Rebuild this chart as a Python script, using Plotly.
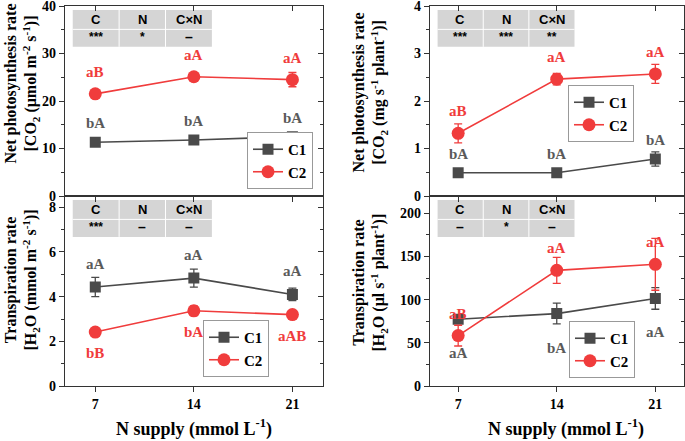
import plotly.graph_objects as go

# ---------------- data ----------------
n_supply = [7, 14, 21]
x_tick_labels = ["7", "14", "21"]

pn_area_c1 = [11.3, 11.8, 12.5]
pn_area_c1_err = [0.3, 0.4, 0.5]
pn_area_c2 = [21.5, 25.1, 24.5]
pn_area_c2_err = [0.5, 0.6, 1.5]

pn_plant_c1 = [0.49, 0.49, 0.78]
pn_plant_c1_err = [0.03, 0.03, 0.15]
pn_plant_c2 = [1.32, 2.46, 2.57]
pn_plant_c2_err = [0.2, 0.12, 0.2]

tr_area_c1 = [4.43, 4.83, 4.10]
tr_area_c1_err = [0.43, 0.40, 0.28]
tr_area_c2 = [2.42, 3.37, 3.20]
tr_area_c2_err = [0.10, 0.22, 0.10]

tr_plant_c1 = [77.5, 84.0, 101.5]
tr_plant_c1_err = [4, 12, 12.5]
tr_plant_c2 = [58.5, 134.0, 141.0]
tr_plant_c2_err = [12, 15, 30]

letters_pn_area_c1 = ["bA", "bA", "bA"]
letters_pn_area_c2 = ["aB", "aA", "aA"]
letters_pn_plant_c1 = ["bA", "bA", "bA"]
letters_pn_plant_c2 = ["aB", "aA", "aA"]
letters_tr_area_c1 = ["aA", "aA", "aA"]
letters_tr_area_c2 = ["bB", "bA", "aAB"]
letters_tr_plant_c1 = ["aA", "bA", "aA"]
letters_tr_plant_c2 = ["aB", "aA", "aA"]

table_headers = ["C", "N", "C×N"]
sig_pn_area = ["***", "*", "–"]
sig_pn_plant = ["***", "***", "**"]
sig_tr_area = ["***", "–", "–"]
sig_tr_plant = ["–", "*", "–"]

series_names = ["C1", "C2"]

# ---------------- styling ----------------
C1_COLOR = "#4a4a4a"
C1_TEXT = "#5a5a5a"
C2_COLOR = "#f03c3c"
AXIS_COLOR = "#333333"
SERIF = "Liberation Serif, Times New Roman, serif"
SANS = "Liberation Sans, Arial, sans-serif"

fig = go.Figure()

panels = [
    dict(x="x", y="y", c1=pn_area_c1, c1e=pn_area_c1_err, c2=pn_area_c2, c2e=pn_area_c2_err,
         l1=letters_pn_area_c1, l2=letters_pn_area_c2, s1=19, s2=22, sig=sig_pn_area, legend="legend"),
    dict(x="x2", y="y2", c1=pn_plant_c1, c1e=pn_plant_c1_err, c2=pn_plant_c2, c2e=pn_plant_c2_err,
         l1=letters_pn_plant_c1, l2=letters_pn_plant_c2, s1=19, s2=22, sig=sig_pn_plant, legend="legend2"),
    dict(x="x3", y="y3", c1=tr_area_c1, c1e=tr_area_c1_err, c2=tr_area_c2, c2e=tr_area_c2_err,
         l1=letters_tr_area_c1, l2=letters_tr_area_c2, s1=23, s2=-21, sig=sig_tr_area, legend="legend3"),
    dict(x="x4", y="y4", c1=tr_plant_c1, c1e=tr_plant_c1_err, c2=tr_plant_c2, c2e=tr_plant_c2_err,
         l1=letters_tr_plant_c1, l2=letters_tr_plant_c2, s1=-34, s2=22, sig=sig_tr_plant, legend="legend4"),
]

annotations = []
shapes = []

for i, p in enumerate(panels):
    fig.add_trace(go.Scatter(
        x=n_supply, y=p["c1"], name=series_names[0], xaxis=p["x"], yaxis=p["y"],
        mode="lines+markers", legend=p["legend"],
        line=dict(color=C1_COLOR, width=1.6),
        marker=dict(symbol="square", size=11, color=C1_COLOR),
        error_y=dict(type="data", array=p["c1e"], color=C1_COLOR, thickness=1.3, width=4),
    ))
    fig.add_trace(go.Scatter(
        x=n_supply, y=p["c2"], name=series_names[1], xaxis=p["x"], yaxis=p["y"],
        mode="lines+markers", legend=p["legend"],
        line=dict(color=C2_COLOR, width=1.6),
        marker=dict(symbol="circle", size=13, color=C2_COLOR),
        error_y=dict(type="data", array=p["c2e"], color=C2_COLOR, thickness=1.3, width=4),
    ))
    for xv, yv, t in zip(n_supply, p["c1"], p["l1"]):
        annotations.append(dict(x=xv, y=yv, xref=p["x"], yref=p["y"], text=t, showarrow=False,
                                xanchor="center", yanchor="middle",
                                yshift=p["s1"], font=dict(family=SERIF, size=15, color=C1_TEXT, weight="bold")))
    for xv, yv, t in zip(n_supply, p["c2"], p["l2"]):
        annotations.append(dict(x=xv, y=yv, xref=p["x"], yref=p["y"], text=t, showarrow=False,
                                xanchor="center", yanchor="middle",
                                yshift=p["s2"], font=dict(family=SERIF, size=15, color=C2_COLOR, weight="bold")))
    xd = p["x"] + " domain"
    yd = p["y"] + " domain"
    x0, x1 = 0.03, 0.57
    y0, y1 = 0.785, 0.979
    shapes.append(dict(type="rect", xref=xd, yref=yd, x0=x0, x1=x1, y0=y0, y1=y1,
                       fillcolor="#d5d5d5", line=dict(width=0), layer="below"))
    cols = [x0, 0.21, 0.39, x1]
    for cx in cols[1:-1]:
        shapes.append(dict(type="line", xref=xd, yref=yd, x0=cx, x1=cx, y0=y0, y1=y1,
                           line=dict(color="white", width=1)))
    shapes.append(dict(type="line", xref=xd, yref=yd, x0=x0, x1=x1, y0=0.877, y1=0.877,
                       line=dict(color="white", width=1)))
    for k in range(3):
        cxm = (cols[k] + cols[k + 1]) / 2
        annotations.append(dict(x=cxm, y=0.928, xref=xd, yref=yd, text=table_headers[k], showarrow=False,
                                xanchor="center", yanchor="middle",
                                font=dict(family=SANS, size=13, color="black", weight="bold")))
        sig = p["sig"][k]
        annotations.append(dict(x=cxm, y=0.835, xref=xd, yref=yd, text=sig, showarrow=False,
                                xanchor="center", yanchor="middle",
                                font=dict(family=SANS, size=12 if sig != "–" else 14, color="black", weight="bold")))

for k in range(4):
    fig.add_trace(go.Scatter(x=[None], y=[None], xaxis=f"x{k+5}", yaxis=f"y{k+5}",
                             showlegend=False, hoverinfo="skip"))

# ---------------- layout ----------------
dom_x_left = [65 / 685, 322.7 / 685]
dom_x_right = [430 / 685, 683.5 / 685]
dom_y_top = [1 - 196 / 441, 1 - 6 / 441]
dom_y_bot = [1 - 386.2 / 441, 1 - 196 / 441]

tickfont = dict(family=SERIF, size=14, color="black", weight="bold")

def xax(domain, rng, anchor, labels):
    return dict(domain=domain, range=rng, anchor=anchor, tickvals=n_supply, ticktext=x_tick_labels,
                showticklabels=labels, ticks="outside", ticklen=5, tickwidth=1.2, tickcolor=AXIS_COLOR,
                showline=True, linecolor=AXIS_COLOR, linewidth=1.3, mirror=True, showgrid=False,
                zeroline=False, tickfont=tickfont, fixedrange=True, automargin=False,
                ticklabeloverflow="allow")

def yax(domain, rng, anchor, dtick, mdtick):
    return dict(domain=domain, range=rng, anchor=anchor, dtick=dtick, tick0=0,
                ticks="outside", ticklen=5, tickwidth=1.2, tickcolor=AXIS_COLOR,
                minor=dict(dtick=mdtick, ticks="outside", ticklen=3, tickwidth=1, tickcolor=AXIS_COLOR),
                showline=True, linecolor=AXIS_COLOR, linewidth=1.3, mirror=True, showgrid=False,
                zeroline=False, tickfont=tickfont, fixedrange=True, automargin=False,
                ticklabeloverflow="allow")

def yover(base, rng, anchor, dtick, mdtick):
    return dict(overlaying=base, side="right", anchor=anchor, range=rng, dtick=dtick, tick0=0,
                ticks="inside", ticklen=5, tickwidth=1.2, tickcolor=AXIS_COLOR,
                minor=dict(dtick=mdtick, ticks="inside", ticklen=3, tickwidth=1, tickcolor=AXIS_COLOR),
                showticklabels=False, showline=False, showgrid=False, zeroline=False, fixedrange=True,
                automargin=False)

def xover(base, rng, anchor):
    return dict(overlaying=base, side="top", anchor=anchor, range=rng, tickvals=n_supply,
                ticks="inside", ticklen=5, tickwidth=1.2, tickcolor=AXIS_COLOR,
                showticklabels=False, showline=False, showgrid=False, zeroline=False, fixedrange=True,
                automargin=False)

xr_left = [4.85, 23.15]
xr_right = [5.0, 23.0]
yr = [[0, 40], [0, 4], [0, 8.5], [0, 220]]
dt = [(10, 5), (1, 0.5), (2, 1), (50, 25)]

legend_common = dict(bgcolor="white", bordercolor="#999999", borderwidth=1, itemwidth=30,
                     font=dict(family=SERIF, size=15, color="black", weight="bold"),
                     xanchor="right", yanchor="bottom", tracegroupgap=0,
                     itemclick=False, itemdoubleclick=False)

fig.update_layout(
    width=685, height=441,
    margin=dict(l=0, r=0, t=0, b=0, autoexpand=False),
    paper_bgcolor="white", plot_bgcolor="white",
    showlegend=True,
    xaxis=xax(dom_x_left, xr_left, "y", False),
    yaxis=yax(dom_y_top, yr[0], "x", *dt[0]),
    xaxis2=xax(dom_x_right, xr_right, "y2", False),
    yaxis2=yax(dom_y_top, yr[1], "x2", *dt[1]),
    xaxis3=xax(dom_x_left, xr_left, "y3", True),
    yaxis3=yax(dom_y_bot, yr[2], "x3", *dt[2]),
    xaxis4=xax(dom_x_right, xr_right, "y4", True),
    yaxis4=yax(dom_y_bot, yr[3], "x4", *dt[3]),
    xaxis5=xover("x", xr_left, "y"),
    yaxis5=yover("y", yr[0], "x", *dt[0]),
    xaxis6=xover("x2", xr_right, "y2"),
    yaxis6=yover("y2", yr[1], "x2", *dt[1]),
    xaxis7=xover("x3", xr_left, "y3"),
    yaxis7=yover("y3", yr[2], "x3", *dt[2]),
    xaxis8=xover("x4", xr_right, "y4"),
    yaxis8=yover("y4", yr[3], "x4", *dt[3]),
    legend=dict(x=313 / 685, y=1 - 189 / 441, **legend_common),
    legend2=dict(x=634 / 685, y=1 - 142 / 441, **legend_common),
    legend3=dict(x=269 / 685, y=1 - 377 / 441, **legend_common),
    legend4=dict(x=635 / 685, y=1 - 378 / 441, **legend_common),
)

title_font = dict(family=SERIF, size=16, color="black", weight="bold")
ytitles = [
    ("Net photosynthesis rate<br>[CO<sub>2</sub> (μmol m<sup>-2</sup> s<sup>-1</sup>)]", 21.5 / 685, 1 - 84 / 441),
    ("Net photosynthesis rate<br>[CO<sub>2</sub> (mg s<sup>-1</sup> plant<sup>-1</sup>)]", 369.5 / 685, 1 - 93 / 441),
    ("Transpiration rate<br>[H<sub>2</sub>O (mmol m<sup>-2</sup> s<sup>-1</sup>)]", 21.5 / 685, 1 - 280 / 441),
    ("Transpiration rate<br>[H<sub>2</sub>O (μl s<sup>-1</sup> plant<sup>-1</sup>)]", 369.5 / 685, 1 - 283 / 441),
]
for txt, xp, yp in ytitles:
    annotations.append(dict(x=xp, y=yp, xref="paper", yref="paper", text=txt, textangle=-90,
                            xanchor="center", yanchor="middle",
                            showarrow=False, font=title_font, align="center"))
xtitle = "N supply (mmol L<sup>-1</sup>)"
for xp in [194 / 685, 566 / 685]:
    annotations.append(dict(x=xp, y=1 - 428 / 441, xref="paper", yref="paper", text=xtitle,
                            xanchor="center", yanchor="middle",
                            showarrow=False, font=dict(family=SERIF, size=18, color="black", weight="bold")))

fig.update_layout(annotations=annotations, shapes=shapes)

fig.write_html(
    "out.html",
    config={"displayModeBar": False},
    post_script="document.body.style.margin='0px';document.body.style.overflow='hidden';",
)
